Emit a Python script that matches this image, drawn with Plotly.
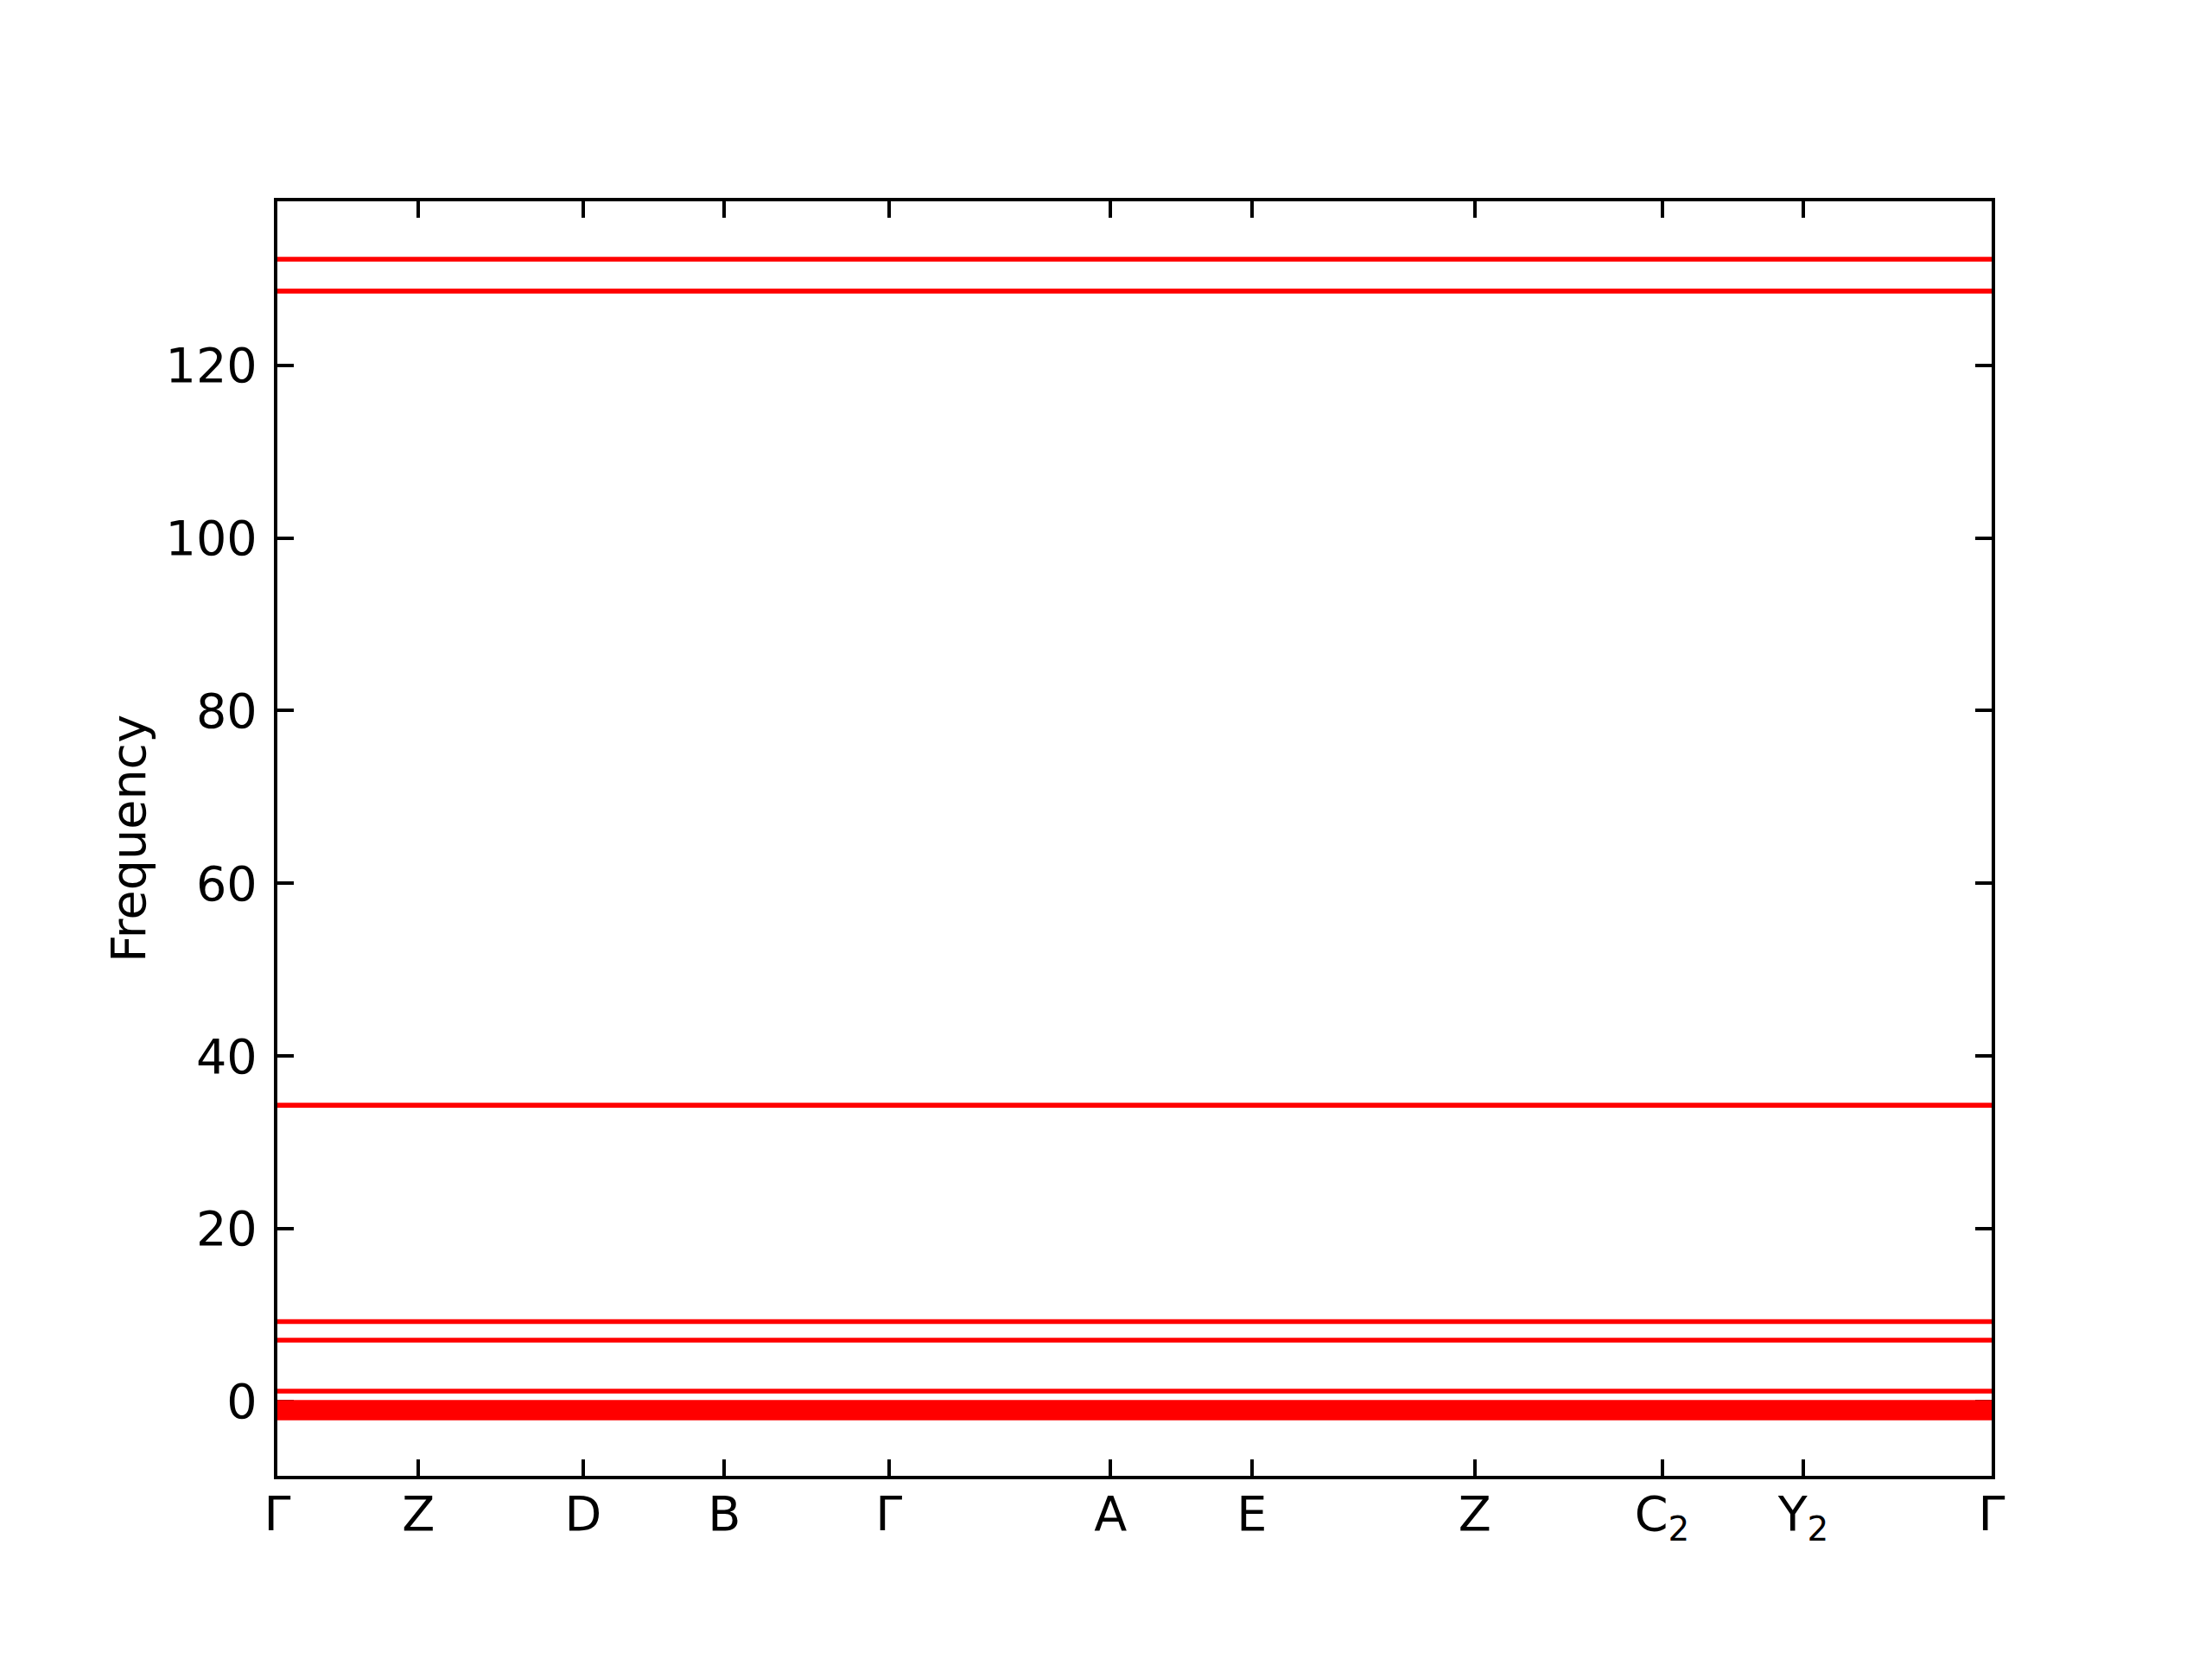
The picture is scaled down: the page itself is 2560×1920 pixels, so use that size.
import plotly.graph_objects as go

# High-symmetry path positions (cumulative path distance) and labels
kpath_positions = [0.0, 0.1633, 0.354, 0.5173, 0.7077, 0.9643, 1.1277, 1.3857, 1.6025, 1.766, 1.984]
kpath_labels = ["Γ", "Z", "D", "B", "Γ", "A", "E", "Z", "C<sub>2</sub>", "Y<sub>2</sub>", "Γ"]

# Band frequencies (flat bands along the whole path)
band_frequencies = [132.3, 128.6, 34.3, 9.23, 7.09, 1.18,
                    -0.13, -0.45, -0.8, -1.15, -1.5, -1.92]

y_ticks = [0, 20, 40, 60, 80, 100, 120]

FONT = "DejaVu Sans, Liberation Sans, sans-serif"
FS = 55.6

fig = go.Figure()
for f in band_frequencies:
    fig.add_trace(go.Scatter(
        x=kpath_positions,
        y=[f] * len(kpath_positions),
        mode="lines",
        line=dict(color="#ff0000", width=5.6),
        showlegend=False,
        hoverinfo="skip",
    ))

fig.update_layout(
    width=2560, height=1920,
    margin=dict(l=313, r=263, t=225, b=220),
    paper_bgcolor="white", plot_bgcolor="white",
    font=dict(family=FONT, size=FS, color="black"),
    showlegend=False,
)

fig.update_xaxes(
    range=[kpath_positions[0], kpath_positions[-1]],
    tickmode="array", tickvals=kpath_positions, ticktext=kpath_labels,
    ticks="inside", ticklen=19, tickwidth=4.4, tickcolor="black",
    showline=True, linewidth=4.4, linecolor="black", mirror="ticks",
    showgrid=False, zeroline=False,
    tickfont=dict(family=FONT, size=FS, color="black"),
    ticklabelstandoff=-8,
    layer="below traces",
)
fig.update_yaxes(
    range=[-8.63, 139.0],
    tickmode="array", tickvals=y_ticks, ticktext=[str(v) for v in y_ticks],
    ticks="inside", ticklen=19, tickwidth=4.4, tickcolor="black",
    showline=True, linewidth=4.4, linecolor="black", mirror="ticks",
    showgrid=False, zeroline=False,
    tickfont=dict(family=FONT, size=FS, color="black"),
    ticklabelstandoff=8,
    layer="below traces",
    title=dict(text="Frequency", font=dict(family=FONT, size=FS, color="black"), standoff=6),
)

fig.write_html("out.html")
